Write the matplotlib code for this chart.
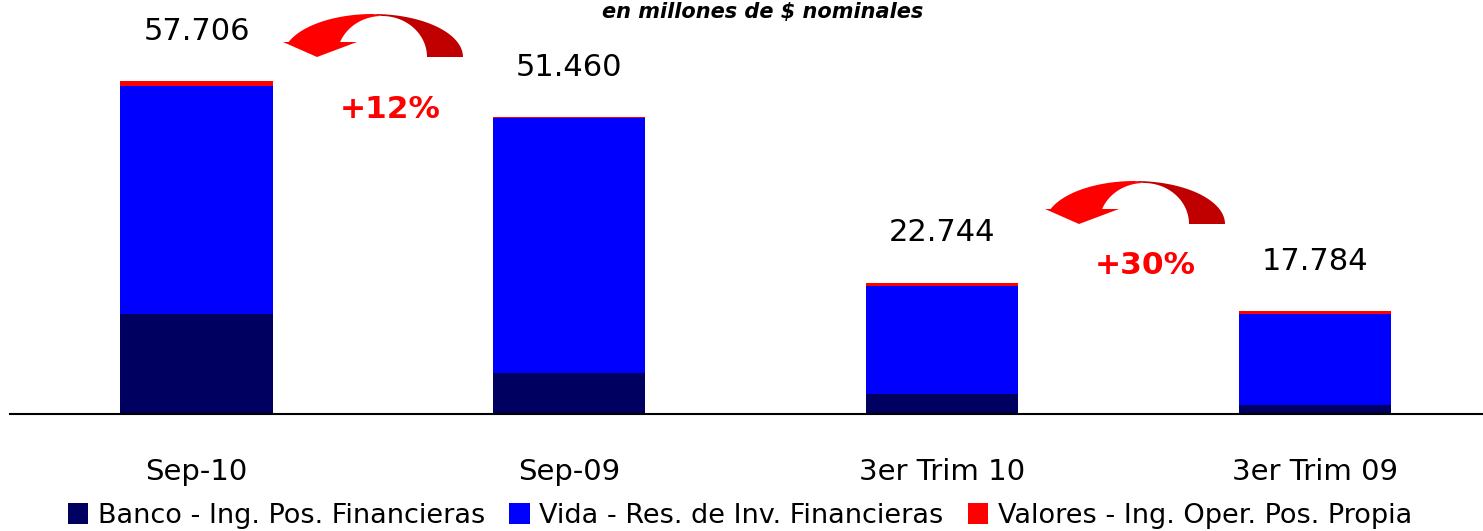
import numpy as np
import matplotlib
matplotlib.use("Agg")
import matplotlib.pyplot as plt
from matplotlib.patches import Polygon, Patch

# ---- data (millones de $ nominales) ----
CATEGORIES = ["Sep-10", "Sep-09", "3er Trim 10", "3er Trim 09"]
TOTALS = [57706, 51460, 22744, 17784]
BANCO = [17330, 7100, 3470, 1560]
VIDA = [39506, 44260, 18774, 15774]
VALORES = [870, 100, 500, 450]
SERIES_NAMES = ["Banco - Ing. Pos. Financieras",
                "Vida - Res. de Inv. Financieras",
                "Valores - Ing. Oper. Pos. Propia"]
CHANGES = ["+12%", "+30%"]

C_BANCO, C_VIDA, C_VALORES = "#000060", "#0000FF", "#FF0000"
C_ARROW_L, C_ARROW_R = "#FF0000", "#C00000"

W, H = 1483, 531


def fmt(v):
    return f"{v:,}".replace(",", ".")


def turn_arrow(ax, cx, cy):
    """Curved 'return' arrow drawn in pixel coords; (cx, cy) = base centre."""
    to_end = np.pi - np.arcsin(15 / 43)
    ti_end = np.pi - np.arcsin(15 / 41)
    outer = lambda t: np.c_[cx + 90 * np.cos(t), cy - 43 * np.sin(t)]
    inner = lambda t: np.c_[cx + 9 + 45 * np.cos(t), cy - 41 * np.sin(t)]
    t1 = np.linspace(0, np.pi / 2, 40)
    dark = np.vstack([outer(t1), inner(t1[::-1])])
    ax.add_patch(Polygon(dark, closed=True, fc=C_ARROW_R, ec="none"))
    t2o = np.linspace(np.pi / 2, to_end, 40)
    t2i = np.linspace(ti_end, np.pi / 2, 40)
    head = np.array([[cx - 90, cy - 15], [cx - 56, cy], [cx - 16, cy - 15]])
    red = np.vstack([outer(t2o), head, inner(t2i)])
    ax.add_patch(Polygon(red, closed=True, fc=C_ARROW_L, ec="none"))


fig = plt.figure(figsize=(W / 100, H / 100), dpi=100)
ax = fig.add_axes([10 / W, 117 / H, 1 - 10 / W, 414 / H])

x = np.arange(len(CATEGORIES))
bw = 0.408
ax.bar(x, BANCO, bw, color=C_BANCO)
ax.bar(x, VIDA, bw, bottom=BANCO, color=C_VIDA)
ax.bar(x, VALORES, bw, bottom=np.add(BANCO, VIDA), color=C_VALORES)

for xi, tot in zip(x, TOTALS):
    ax.annotate(fmt(tot), (xi, tot), xytext=(0, 36), textcoords="offset points",
                ha="center", va="center", fontsize=22, color="black")

ax.set_xlim(-0.5, 3.45)
ax.set_ylim(0, 71743)
ax.set_xticks(x)
ax.set_xticklabels(CATEGORIES, fontsize=21)
ax.tick_params(axis="x", length=0, pad=32)
ax.set_yticks([])
for s in ["top", "right", "left"]:
    ax.spines[s].set_visible(False)
ax.spines["bottom"].set_linewidth(1.5)

# overlay in pixel coordinates for the decorative arrows and percentages
ov = fig.add_axes([0, 0, 1, 1])
ov.set_xlim(0, W)
ov.set_ylim(H, 0)
ov.axis("off")
turn_arrow(ov, 373, 57)
turn_arrow(ov, 1135, 224)
ov.text(390, 110, CHANGES[0], ha="center", va="center", fontsize=22.5,
        fontweight="bold", color="#FF0000")
ov.text(1145, 265, CHANGES[1], ha="center", va="center", fontsize=22.5,
        fontweight="bold", color="#FF0000")

fig.text(763 / W, 1 - 2 / H, "en millones de $ nominales", ha="center",
         va="top", fontsize=15, fontstyle="italic", fontweight="bold")

handles = [Patch(facecolor=c, label=n) for c, n in
           zip([C_BANCO, C_VIDA, C_VALORES], SERIES_NAMES)]
fig.legend(handles=handles, loc="center", bbox_to_anchor=(740 / W, 1 - 516 / H),
           ncol=3, frameon=False, fontsize=19.5, handlelength=0.75,
           handleheight=0.8, handletextpad=0.35, columnspacing=0.9,
           borderpad=0)

fig.savefig("out.png", dpi=100)
